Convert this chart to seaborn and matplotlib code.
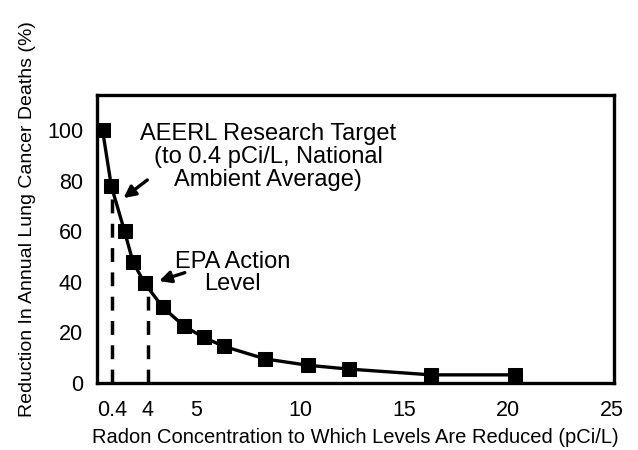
import numpy as np
import pandas as pd
import seaborn as sns
import matplotlib.pyplot as plt

# Data (x in axis units, y in %)
radon_x = [0.47, 0.89, 1.53, 1.93, 2.49, 3.37, 4.39, 5.35, 6.31, 8.31, 10.36, 12.32, 16.31, 20.36]
reduction = [100, 78, 60, 48, 39.5, 30, 22.5, 18, 14.5, 9.5, 7, 5.5, 3.2, 3.2]

# reference levels (dashed lines)
level_x = [0.93, 2.65]
level_y = [78, 39.5]
level_labels = ["0.4", "4"]

major_ticks = [5, 10, 15, 20, 25]
minor_ticks = [7.5, 12.5, 17.5, 22.5]

df = pd.DataFrame({"x": radon_x, "y": reduction})

sns.set_style("white")
plt.rcParams["font.family"] = ["Liberation Sans", "DejaVu Sans"]
plt.rcParams["text.color"] = "black"
plt.rcParams["axes.labelcolor"] = "black"

fig = plt.figure(figsize=(6.38, 4.5), dpi=100)
ax = fig.add_axes([0.152, 0.149, 0.810, 0.640])

sns.lineplot(data=df, x="x", y="y", ax=ax, color="black", lw=2.4,
             marker="s", markersize=9.5, markeredgecolor="black")

# dashed reference lines
ax.vlines(level_x, 0, level_y, colors="black", lw=2.5, linestyles=(0, (4, 3)))

ax.set_xlim(0.2, 25.1)
ax.set_ylim(0, 114)

ax.set_xticks(level_x + major_ticks)
ax.set_xticklabels(level_labels + [str(t) for t in major_ticks])
ax.set_xticks(minor_ticks, minor=True)
ax.set_yticks([0, 20, 40, 60, 80, 100])
ax.set_yticks([10, 30, 50, 70, 90], minor=True)
ax.tick_params(which="both", direction="in", length=5, width=1.5, colors="black",
               labelsize=15.5)
ax.tick_params(axis="x", pad=12)
ax.tick_params(axis="y", pad=10)

for sp in ax.spines.values():
    sp.set_linewidth(2.4)
    sp.set_color("black")

ax.set_xlabel("Radon Concentration to Which Levels Are Reduced (pCi/L)",
              fontsize=14.5, labelpad=5)
ax.set_ylabel("Reduction In Annual Lung Cancer Deaths (%)", fontsize=14)
ax.yaxis.set_label_coords(-0.118, 0.57)

# annotations
ax.text(8.44, 89.5, "AEERL Research Target\n(to 0.4 pCi/L, National\nAmbient Average)",
        ha="center", va="center", fontsize=17, linespacing=1.05)
ax.annotate("", xy=(1.37, 72.5), xytext=(2.73, 81),
            arrowprops=dict(arrowstyle="-|>,head_length=0.7,head_width=0.35",
                            color="black", lw=2.4))

ax.text(6.75, 43.5, "EPA Action\nLevel", ha="center", va="center",
        fontsize=17, linespacing=1.0)
ax.annotate("", xy=(3.06, 40), xytext=(4.56, 44),
            arrowprops=dict(arrowstyle="-|>,head_length=0.7,head_width=0.35",
                            color="black", lw=2.4))

fig.savefig("out.png", dpi=100)
